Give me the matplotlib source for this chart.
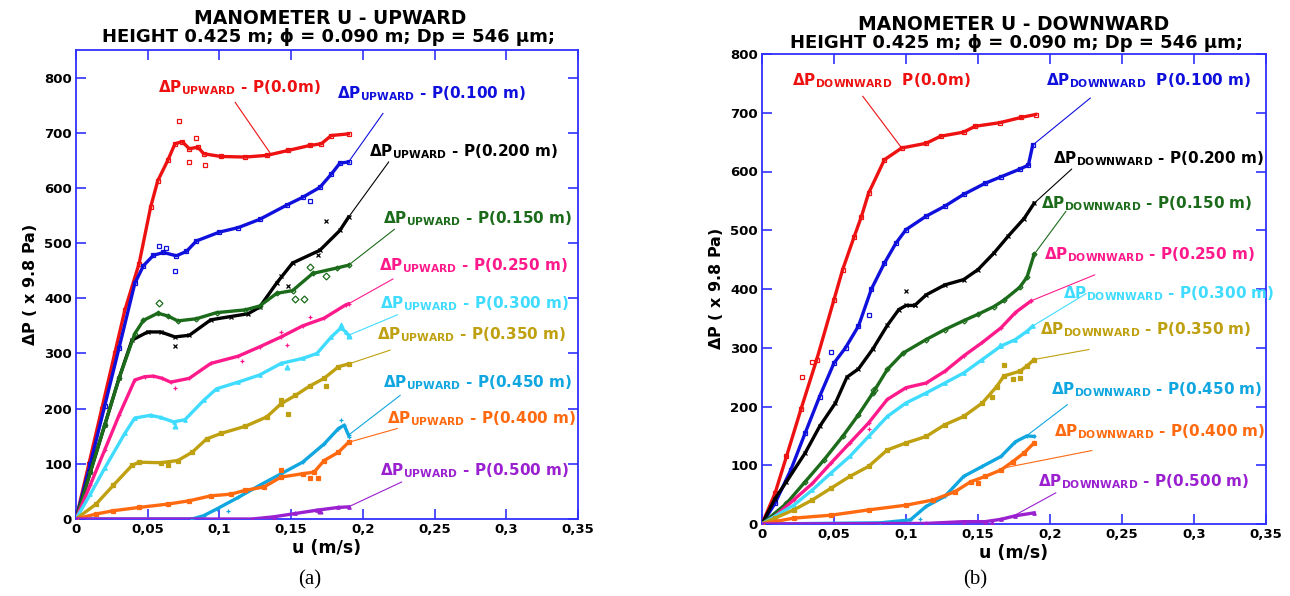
import numpy as np
import matplotlib
matplotlib.use("Agg")
import matplotlib.pyplot as plt

# ---------------- data : panel (a) UPWARD ----------------
probe_names = ["0.0m", "0.100 m", "0.200 m", "0.150 m", "0.250 m",
               "0.300 m", "0.350 m", "0.450 m", "0.400 m", "0.500 m"]

up_u_p000 = [0, 0.009, 0.018, 0.027, 0.034, 0.044, 0.052, 0.057, 0.064, 0.069, 0.074, 0.079,
             0.085, 0.089, 0.101, 0.118, 0.133, 0.148, 0.163, 0.171, 0.178, 0.19]
up_dp_p000 = [0, 100, 200, 300, 378, 463, 565, 613, 650, 680, 684, 671,
              674, 662, 657, 656, 659, 668, 677, 680, 695, 698]
up_u_p100 = [0, 0.01, 0.02, 0.03, 0.041, 0.047, 0.054, 0.061, 0.07, 0.077, 0.084, 0.1, 0.113,
             0.128, 0.147, 0.158, 0.17, 0.178, 0.184, 0.19]
up_dp_p100 = [0, 100, 205, 310, 427, 459, 478, 483, 477, 485, 504, 520, 528,
              543, 569, 583, 601, 625, 645, 647]
up_u_p200 = [0, 0.01, 0.02, 0.03, 0.039, 0.05, 0.059, 0.069, 0.079, 0.094, 0.108, 0.12, 0.128,
             0.14, 0.151, 0.17, 0.184, 0.19]
up_dp_p200 = [0, 85, 170, 255, 324, 339, 339, 330, 333, 361, 367, 372, 384,
              428, 464, 487, 523, 547]
up_u_p150 = [0, 0.01, 0.02, 0.03, 0.041, 0.047, 0.057, 0.064, 0.071, 0.084, 0.098, 0.118, 0.128,
             0.14, 0.151, 0.165, 0.182, 0.19]
up_dp_p150 = [0, 85, 170, 255, 336, 360, 373, 368, 359, 363, 374, 379, 386,
              409, 414, 445, 455, 460]
up_u_p250 = [0, 0.01, 0.02, 0.03, 0.041, 0.048, 0.054, 0.06, 0.066, 0.079, 0.094, 0.113, 0.128,
             0.143, 0.158, 0.173, 0.188, 0.19]
up_dp_p250 = [0, 62, 125, 188, 252, 258, 259, 255, 248, 255, 282, 295, 312,
              330, 350, 364, 388, 390]
up_u_p300 = [0, 0.01, 0.02, 0.034, 0.041, 0.052, 0.059, 0.068, 0.076, 0.089, 0.098, 0.113, 0.128,
             0.143, 0.158, 0.168, 0.178, 0.185, 0.188, 0.19]
up_dp_p300 = [0, 45, 92, 155, 183, 188, 184, 176, 180, 215, 236, 248, 261,
              282, 291, 300, 330, 347, 339, 333]
up_u_p350 = [0, 0.014, 0.026, 0.039, 0.044, 0.059, 0.071, 0.081, 0.091, 0.101, 0.118, 0.133, 0.143,
             0.153, 0.163, 0.173, 0.183, 0.19]
up_dp_p350 = [0, 27, 61, 97, 103, 102, 106, 121, 145, 155, 168, 185, 209,
              224, 241, 255, 276, 281]
up_u_p450 = [0, 0.081, 0.089, 0.098, 0.113, 0.128, 0.143, 0.158, 0.173, 0.183, 0.187, 0.19]
up_dp_p450 = [0, 0, 6, 18, 39, 61, 82, 103, 136, 164, 170, 152]
up_u_p400 = [0, 0.014, 0.026, 0.044, 0.064, 0.079, 0.094, 0.108, 0.118, 0.131, 0.143, 0.158,
             0.166, 0.173, 0.183, 0.19]
up_dp_p400 = [0, 9, 15, 21, 27, 33, 42, 45, 52, 58, 76, 82, 85, 106, 121, 139]
up_u_p500 = [0, 0.123, 0.138, 0.153, 0.168, 0.183, 0.19]
up_dp_p500 = [0, 0, 4, 10, 16, 21, 22]

# scattered raw readings
up_out_u = [[0.072, 0.079, 0.084, 0.09], [0.058, 0.063, 0.069, 0.163], [0.069, 0.143, 0.148, 0.169, 0.174],
            [0.058, 0.153, 0.159, 0.163, 0.174], [0.069, 0.116, 0.143, 0.147, 0.163],
            [0.069, 0.147, 0.185, 0.19], [0.064, 0.143, 0.148, 0.174], [0.106, 0.185, 0.19],
            [0.143, 0.163, 0.169], [0.17]]
up_out_dp = [[722, 647, 691, 642], [494, 492, 450, 576], [313, 440, 422, 478, 540],
             [391, 398, 398, 456, 441], [238, 286, 339, 315, 366],
             [168, 276, 351, 331], [97, 216, 191, 241], [15, 180, 149],
             [88, 75, 75], [14]]

# ---------------- data : panel (b) DOWNWARD ----------------
dn_u_p000 = [0, 0.009, 0.017, 0.027, 0.038, 0.05, 0.056, 0.064, 0.069, 0.074, 0.085, 0.097,
             0.114, 0.124, 0.14, 0.148, 0.165, 0.18, 0.19]
dn_dp_p000 = [0, 52, 115, 195, 280, 382, 433, 489, 523, 563, 620, 640,
              648, 660, 667, 677, 683, 692, 697]
dn_u_p100 = [0, 0.009, 0.02, 0.03, 0.04, 0.05, 0.058, 0.067, 0.076, 0.085, 0.093, 0.1,
             0.114, 0.127, 0.14, 0.155, 0.166, 0.179, 0.185, 0.188]
dn_dp_p100 = [0, 35, 92, 155, 217, 274, 300, 337, 400, 444, 478, 501,
              524, 541, 561, 580, 591, 604, 611, 645]
dn_u_p200 = [0, 0.009, 0.017, 0.03, 0.04, 0.051, 0.059, 0.067, 0.077, 0.087, 0.095, 0.1, 0.106,
             0.114, 0.127, 0.14, 0.15, 0.161, 0.171, 0.182, 0.189]
dn_dp_p200 = [0, 43, 72, 121, 166, 206, 250, 264, 298, 338, 365, 372, 372,
              390, 407, 416, 433, 461, 490, 520, 546]
dn_u_p150 = [0, 0.017, 0.03, 0.043, 0.056, 0.067, 0.077, 0.087, 0.098, 0.114, 0.127, 0.14,
             0.15, 0.161, 0.168, 0.179, 0.184, 0.189]
dn_dp_p150 = [0, 35, 72, 109, 149, 186, 223, 263, 291, 314, 331, 346,
              357, 370, 381, 403, 420, 459]
dn_u_p250 = [0, 0.009, 0.022, 0.035, 0.048, 0.061, 0.074, 0.087, 0.1, 0.114, 0.127, 0.14,
             0.153, 0.166, 0.176, 0.187]
dn_dp_p250 = [0, 13, 41, 69, 104, 138, 172, 212, 232, 240, 260, 286,
              309, 334, 360, 380]
dn_u_p300 = [0, 0.009, 0.022, 0.035, 0.048, 0.061, 0.074, 0.087, 0.1, 0.114, 0.127, 0.14,
             0.153, 0.166, 0.176, 0.184, 0.188]
dn_dp_p300 = [0, 13, 32, 58, 87, 115, 149, 183, 206, 223, 240, 257,
              280, 303, 314, 328, 337]
dn_u_p350 = [0, 0.009, 0.022, 0.035, 0.048, 0.061, 0.074, 0.087, 0.1, 0.114, 0.127, 0.14,
             0.153, 0.163, 0.168, 0.179, 0.184, 0.189]
dn_dp_p350 = [0, 10, 24, 41, 61, 81, 98, 126, 138, 149, 169, 183,
              206, 234, 252, 260, 269, 280]
dn_u_p450 = [0, 0.082, 0.103, 0.114, 0.127, 0.14, 0.153, 0.166, 0.176, 0.184, 0.189]
dn_dp_p450 = [0, 2, 7, 30, 47, 81, 98, 115, 140, 150, 149]
dn_u_p400 = [0, 0.022, 0.048, 0.074, 0.1, 0.119, 0.134, 0.145, 0.155, 0.166, 0.174, 0.182, 0.189]
dn_dp_p400 = [0, 10, 15, 24, 32, 41, 55, 72, 81, 92, 106, 121, 138]
dn_u_p500 = [0, 0.114, 0.14, 0.155, 0.166, 0.176, 0.189]
dn_dp_p500 = [0, 1, 4, 4, 8, 14, 19]

dn_out_u = [[0.028, 0.035], [0.048, 0.074], [0.1, 0.106], [0.078], [0.074], [0.165],
            [0.168, 0.174, 0.179, 0.16], [0.11], [0.15], [0.16]]
dn_out_dp = [[250, 275], [292, 355], [396, 372], [228], [162], [304],
             [271, 246, 249, 217], [8], [70], [2]]

up_u = [up_u_p000, up_u_p100, up_u_p200, up_u_p150, up_u_p250,
        up_u_p300, up_u_p350, up_u_p450, up_u_p400, up_u_p500]
up_dp = [up_dp_p000, up_dp_p100, up_dp_p200, up_dp_p150, up_dp_p250,
         up_dp_p300, up_dp_p350, up_dp_p450, up_dp_p400, up_dp_p500]
dn_u = [dn_u_p000, dn_u_p100, dn_u_p200, dn_u_p150, dn_u_p250,
        dn_u_p300, dn_u_p350, dn_u_p450, dn_u_p400, dn_u_p500]
dn_dp = [dn_dp_p000, dn_dp_p100, dn_dp_p200, dn_dp_p150, dn_dp_p250,
         dn_dp_p300, dn_dp_p350, dn_dp_p450, dn_dp_p400, dn_dp_p500]

xticks = [0, 0.05, 0.1, 0.15, 0.2, 0.25, 0.3, 0.35]
xtick_labels = ["0", "0,05", "0,1", "0,15", "0,2", "0,25", "0,3", "0,35"]
yticks = [0, 100, 200, 300, 400, 500, 600, 700, 800]

# ---------------- styles ----------------
colors = ["#ee1111", "#1010dd", "#000000", "#1b6b1b", "#ff1a8c",
          "#40dcff", "#bfa010", "#10a6e0", "#ff6a10", "#9a20d0"]
markers = ["s", "s", "x", "D", "+", "^", "s", "+", "s", "^"]
hollow = [True, True, False, True, False, False, False, False, False, False]
spine_blue = "#3030ff"

# label anchor (u, dP), leader start (u, dP), u where leader meets curve
up_lab = [(0.057, 774), (0.182, 762), (0.204, 657), (0.214, 536), (0.211, 450),
          (0.212, 381), (0.21, 325), (0.214, 239), (0.217, 173), (0.212, 79)]
up_lead = [(0.111, 755), (0.214, 735), (0.218, 647), (0.222, 525), (0.221, 435),
           (0.224, 370), (0.219, 306), (0.226, 224), (0.224, 164), (0.227, 67)]
up_hit = [0.136, 0.19, 0.19, 0.19, 0.19, 0.19, 0.19, 0.19, 0.19, 0.19]

dn_lab = [(0.021, 746), (0.197, 746), (0.202, 614), (0.194, 538), (0.196, 450),
          (0.209, 385), (0.193, 323), (0.201, 220), (0.203, 149), (0.192, 64)]
dn_lead = [(0.07, 728), (0.228, 725), (0.215, 604), (0.211, 532), (0.231, 424),
           (0.225, 392), (0.227, 297), (0.212, 203), (0.229, 125), (0.204, 53)]
dn_hit = [0.097, 0.188, 0.189, 0.189, 0.187, 0.188, 0.189, 0.183, 0.168, 0.174]

plt.rcParams["font.family"] = "DejaVu Sans"
plt.rcParams["mathtext.fontset"] = "dejavusans"

fig = plt.figure(figsize=(12.9, 5.96), dpi=100)
ax_a = fig.add_axes([76 / 1290, 1 - 519 / 596, 502 / 1290, 469 / 596])
ax_b = fig.add_axes([762 / 1290, 1 - 524 / 596, 504 / 1290, 470 / 596])


def draw_panel(ax, us, dps, out_u, out_dp, labs, leads, hits, sub, ytop, lab_size):
    for i in range(len(us)):
        c = colors[i]
        mfc = "none" if hollow[i] else c
        ax.plot(us[i], dps[i], color=c, lw=2.4, marker=markers[i], ms=2.5,
                mfc=mfc, mec=c, mew=0.9, zorder=3)
        ax.plot(out_u[i], out_dp[i], ls="none", marker=markers[i], ms=3.5,
                mfc=mfc, mec=c, mew=0.9, zorder=3)
        # label with subscript
        if sub == "DOWNWARD" and i < 2:
            txt = r"$\mathbf{\Delta P}_{\mathbf{%s}}$  P(%s)" % (sub, probe_names[i])
        else:
            txt = r"$\mathbf{\Delta P}_{\mathbf{%s}}$ - P(%s)" % (sub, probe_names[i])
        ax.text(labs[i][0], labs[i][1], txt, color=c, fontsize=lab_size,
                fontweight="bold", va="baseline", ha="left", clip_on=False, zorder=5)
        hit_dp = np.interp(hits[i], us[i], dps[i])
        ax.plot([leads[i][0], hits[i]], [leads[i][1], hit_dp], color=c, lw=0.8,
                clip_on=False, zorder=4)

    ax.set_xlim(0, 0.35)
    ax.set_ylim(0, ytop)
    ax.set_xticks(xticks)
    ax.set_xticklabels(xtick_labels)
    ax.set_yticks(yticks)
    for s in ax.spines.values():
        s.set_color(spine_blue)
        s.set_linewidth(1.3)
    ax.tick_params(direction="in", length=7, width=1.2, color=spine_blue,
                   top=True, right=True, labelsize=9.5, pad=3)
    for t in ax.get_xticklabels() + ax.get_yticklabels():
        t.set_fontweight("bold")
    ax.set_xlabel("u (m/s)", fontsize=12.5, fontweight="bold", labelpad=2)
    ax.set_ylabel(r"$\mathbf{\Delta}$P ( x 9.8 Pa)", fontsize=11.5, fontweight="bold", labelpad=4)


draw_panel(ax_a, up_u, up_dp, up_out_u, up_out_dp, up_lab, up_lead, up_hit, "UPWARD", 850, 11)
draw_panel(ax_b, dn_u, dn_dp, dn_out_u, dn_out_dp, dn_lab, dn_lead, dn_hit, "DOWNWARD", 800, 11)

fig.text(330 / 1290, 1 - 19 / 596, "MANOMETER U - UPWARD", ha="center", va="center",
         fontsize=13.5, fontweight="bold")
fig.text(329 / 1290, 1 - 37 / 596, "HEIGHT 0.425 m; \u03d5 = 0.090 m; Dp = 546 \u00b5m;",
         ha="center", va="center", fontsize=13, fontweight="bold")
fig.text(1014 / 1290, 1 - 25 / 596, "MANOMETER U - DOWNWARD", ha="center", va="center",
         fontsize=13.5, fontweight="bold")
fig.text(1016 / 1290, 1 - 43 / 596, "HEIGHT 0.425 m; \u03d5 = 0.090 m; Dp = 546 \u00b5m;",
         ha="center", va="center", fontsize=13, fontweight="bold")

fig.text(310 / 1290, 1 - 580 / 596, "(a)", ha="center", va="center", fontsize=15,
         family="Liberation Serif")
fig.text(975 / 1290, 1 - 580 / 596, "(b)", ha="center", va="center", fontsize=15,
         family="Liberation Serif")

fig.savefig("out.png", dpi=100)
